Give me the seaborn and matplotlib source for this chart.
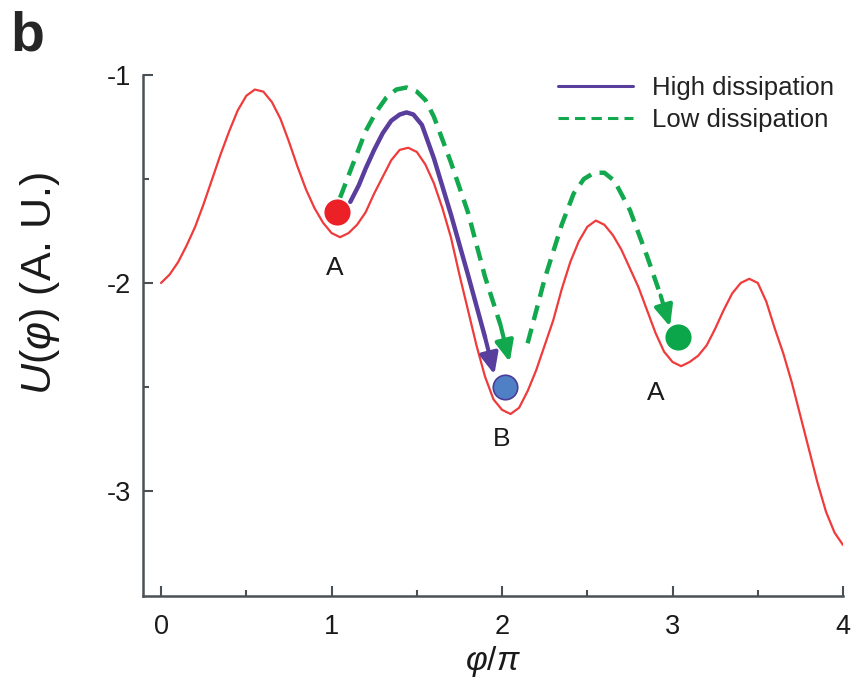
import numpy as np
import pandas as pd
import matplotlib
matplotlib.use("Agg")
import matplotlib.pyplot as plt
import seaborn as sns

# ---- data ----
phi = [0.00, 0.05, 0.10, 0.15, 0.20, 0.25, 0.30, 0.35, 0.40, 0.45, 0.50, 0.55, 0.60, 0.65,
       0.70, 0.75, 0.80, 0.85, 0.90, 0.95, 1.00, 1.05, 1.10, 1.15, 1.20, 1.25, 1.30, 1.35,
       1.40, 1.45, 1.50, 1.55, 1.60, 1.65, 1.70, 1.75, 1.80, 1.85, 1.90, 1.95, 2.00, 2.05,
       2.10, 2.15, 2.20, 2.25, 2.30, 2.35, 2.40, 2.45, 2.50, 2.55, 2.60, 2.65, 2.70, 2.75,
       2.80, 2.85, 2.90, 2.95, 3.00, 3.05, 3.10, 3.15, 3.20, 3.25, 3.30, 3.35, 3.40, 3.45,
       3.50, 3.55, 3.60, 3.65, 3.70, 3.75, 3.80, 3.85, 3.90, 3.95, 4.00]
U = [-2.00, -1.96, -1.90, -1.82, -1.73, -1.62, -1.50, -1.38, -1.27, -1.17, -1.10, -1.07,
     -1.08, -1.13, -1.21, -1.32, -1.44, -1.55, -1.64, -1.71, -1.76, -1.78, -1.76, -1.72,
     -1.66, -1.57, -1.49, -1.41, -1.36, -1.35, -1.37, -1.43, -1.52, -1.64, -1.78, -1.96,
     -2.13, -2.30, -2.45, -2.56, -2.61, -2.63, -2.60, -2.52, -2.42, -2.30, -2.18, -2.03,
     -1.90, -1.80, -1.73, -1.70, -1.72, -1.77, -1.84, -1.93, -2.02, -2.13, -2.24, -2.33,
     -2.38, -2.40, -2.38, -2.35, -2.30, -2.22, -2.13, -2.05, -2.00, -1.98, -2.00, -2.09,
     -2.22, -2.34, -2.48, -2.64, -2.80, -2.96, -3.10, -3.20, -3.26]

high_x = [1.11, 1.16, 1.20, 1.25, 1.30, 1.35, 1.40, 1.44, 1.48, 1.53, 1.60, 1.70, 1.80, 1.90]
high_y = [-1.61, -1.53, -1.45, -1.36, -1.28, -1.22, -1.19, -1.18, -1.19, -1.24, -1.40, -1.67, -1.96, -2.26]
high_tip = (1.955, -2.44)

low1_x = [1.05, 1.12, 1.20, 1.26, 1.32, 1.38, 1.44, 1.50, 1.55, 1.60, 1.70, 1.80, 1.90, 1.99]
low1_y = [-1.59, -1.44, -1.27, -1.18, -1.11, -1.07, -1.06, -1.08, -1.12, -1.20, -1.42, -1.66, -1.97, -2.20]
low1_tip = (2.045, -2.38)

low2_x = [2.15, 2.25, 2.35, 2.42, 2.48, 2.54, 2.60, 2.66, 2.75, 2.85, 2.93]
low2_y = [-2.29, -1.98, -1.72, -1.57, -1.50, -1.47, -1.47, -1.51, -1.65, -1.87, -2.06]
low2_tip = (2.985, -2.21)

dots_x = [1.03, 2.02, 3.03]
dots_y = [-1.66, -2.50, -2.26]
dot_colors = ["#EC2127", "#4F7FC4", "#0BA54A"]
dot_edges = ["#EC2127", "#4B3C9A", "#0BA54A"]

labels = ["A", "B", "A"]
labels_x = [1.02, 2.00, 2.90]
labels_y = [-1.93, -2.75, -2.53]

legend_labels = ["High dissipation", "Low dissipation"]

RED = "#EF3B3B"
PURPLE = "#5A3E9E"
GREEN = "#12A84E"
TXT = "#1a1a1a"

# ---- style ----
sns.set_theme(style="ticks")
plt.rcParams["font.family"] = ["Liberation Sans", "DejaVu Sans"]
plt.rcParams["mathtext.fontset"] = "custom"
plt.rcParams["mathtext.rm"] = "Liberation Sans"
plt.rcParams["mathtext.it"] = "Liberation Sans:italic"
plt.rcParams["mathtext.fallback"] = "cm"

fig = plt.figure(figsize=(8.52, 6.93), dpi=100)
ax = fig.add_axes([0.168, 0.140, 0.8215, 0.7518])

df = pd.DataFrame({"phi": phi, "U": U})
sns.lineplot(data=df, x="phi", y="U", color=RED, lw=1.6, ax=ax, sort=False)

arrow_props = dict(arrowstyle="-|>,head_length=0.9,head_width=0.4",
                   lw=3.0, shrinkA=0, shrinkB=0, mutation_scale=14)

# high dissipation path
sns.lineplot(x=high_x, y=high_y, color=PURPLE, lw=3.2, ax=ax, sort=False,
             label=legend_labels[0], zorder=4)
ax.annotate("", xy=high_tip, xytext=(high_x[-1], high_y[-1]),
            arrowprops=dict(color=PURPLE, **arrow_props), zorder=4)

# low dissipation path
dash = (3.4, 2.0)
sns.lineplot(x=low1_x, y=low1_y, color=GREEN, lw=3.2, ax=ax, sort=False,
             label=legend_labels[1], zorder=5)
ax.lines[-1].set_dashes(dash)
ax.lines[-1].set_clip_on(False)
sns.lineplot(x=low2_x, y=low2_y, color=GREEN, lw=3.2, ax=ax, sort=False, zorder=5)
ax.lines[-1].set_dashes(dash)
for (tx, ty), (sx, sy) in [(low1_tip, (low1_x[-1], low1_y[-1])),
                           (low2_tip, (low2_x[-1], low2_y[-1]))]:
    ax.annotate("", xy=(tx, ty), xytext=(sx, sy),
                arrowprops=dict(color=GREEN, **arrow_props), zorder=5)

# dots
for x, y, c, e in zip(dots_x, dots_y, dot_colors, dot_edges):
    ax.scatter([x], [y], s=310, color=c, edgecolor=e, linewidth=1.2, zorder=6)

for t, x, y in zip(labels, labels_x, labels_y):
    ax.text(x, y, t, fontsize=19, ha="center", va="center", color=TXT)

# axes
ax.set_xlim(-0.105, 4.0)
ax.set_ylim(-3.505, -1.0)
ax.set_xticks([0, 1, 2, 3, 4])
ax.set_xticks([0.5, 1.5, 2.5, 3.5], minor=True)
ax.set_yticks([-3, -2, -1])
ax.set_yticklabels(["-3", "-2", "-1"])
ax.set_yticks([-2.5, -1.5], minor=True)
ax.tick_params(which="both", direction="in", color="#4A5156", width=1.5, labelsize=19.5,
               labelcolor=TXT)
ax.tick_params(axis="x", which="major", length=7, pad=13)
ax.tick_params(axis="y", which="major", length=7, pad=9)
ax.tick_params(which="minor", length=4)
for side in ["top", "right"]:
    ax.spines[side].set_visible(False)
for side in ["left", "bottom"]:
    ax.spines[side].set_color("#4A5156")
    ax.spines[side].set_linewidth(1.8)

ax.set_xlabel(r"$\varphi/\pi$", fontsize=24, color=TXT)
ax.set_ylabel(r"$U$($\varphi$) (A. U.)", fontsize=31, color=TXT)
ax.xaxis.label.set_va("center")
ax.yaxis.label.set_va("center")
ax.xaxis.set_label_coords(0.5, -0.125)
ax.yaxis.set_label_coords(-0.148, 0.60)

leg = ax.legend(loc="upper left", bbox_to_anchor=(0.56, 1.042), frameon=False,
                fontsize=18.5, handlelength=2.9, handletextpad=0.75, labelspacing=0.3,
                labelcolor="#222222")
for ln in leg.get_lines():
    ln.set_linewidth(2.2)

fig.text(0.012, 0.985, "b", fontsize=40, fontweight="bold", va="top", ha="left")

fig.savefig("out.png", dpi=100)
